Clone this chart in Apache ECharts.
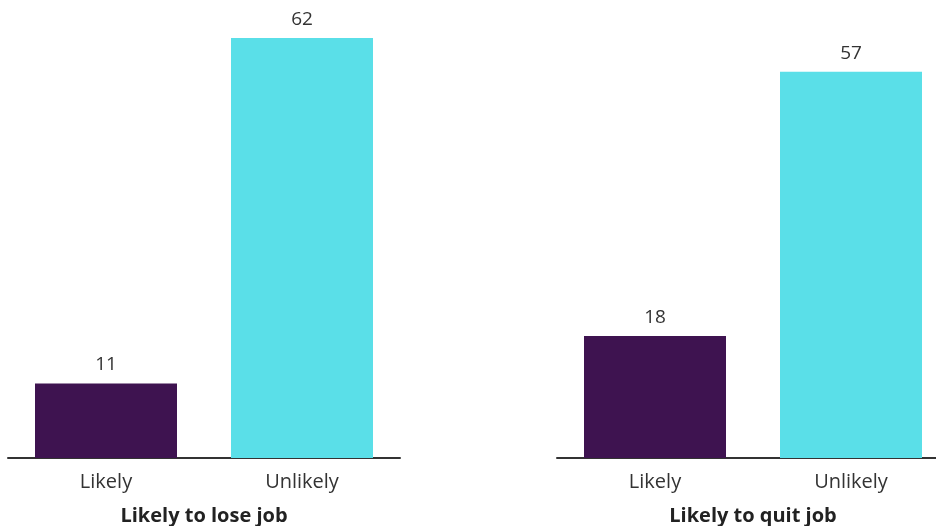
<!DOCTYPE html>
<html>
<head>
<meta charset="utf-8">
<script src="https://cdn.jsdelivr.net/npm/echarts@6/dist/echarts.min.js"></script>
<style>
  html, body { margin: 0; padding: 0; background: #fff; }
  #chart { width: 936px; height: 526px; }
</style>
</head>
<body>
<div id="chart"></div>
<script>
// Share of respondents, two panels
const categories = ['Likely', 'Unlikely'];
const loseJobValues = [11, 62];
const quitJobValues = [18, 57];
const panelTitles = ['Likely to lose job', 'Likely to quit job'];

const barColors = ['#3E1350', '#5ADFE8'];
const fontFamily = '"Open Sans", Lato, sans-serif';

function makeX(idx) {
  return {
    type: 'category',
    gridIndex: idx,
    data: categories,
    name: panelTitles[idx],
    nameLocation: 'middle',
    nameGap: 48,
    nameTextStyle: { fontFamily, fontSize: 20, fontWeight: 'bold', color: '#222' },
    axisLine: { lineStyle: { color: '#333', width: 2 } },
    axisTick: { show: false },
    axisLabel: { fontFamily, fontSize: 20, color: '#333', margin: 14 }
  };
}
function makeY(idx) {
  return {
    type: 'value', gridIndex: idx, min: 0, max: 62,
    show: false, splitLine: { show: false }
  };
}
function makeSeries(idx, values) {
  return {
    type: 'bar',
    xAxisIndex: idx, yAxisIndex: idx,
    barWidth: 142,
    data: values.map((v, i) => ({ value: v, itemStyle: { color: barColors[i] } })),
    label: {
      show: true, position: 'top', distance: 9,
      fontFamily, fontSize: 19, color: '#333'
    }
  };
}

const chart = echarts.init(document.getElementById('chart'), null, { renderer: 'canvas' });
chart.setOption({
  animation: false,
  grid: [
    { left: 8, top: 38, width: 392, height: 420, outerBoundsMode: 'none', containLabel: false },
    { left: 557, top: 38, width: 392, height: 420, outerBoundsMode: 'none', containLabel: false }
  ],
  xAxis: [makeX(0), makeX(1)],
  yAxis: [makeY(0), makeY(1)],
  series: [makeSeries(0, loseJobValues), makeSeries(1, quitJobValues)]
});
</script>
</body>
</html>
